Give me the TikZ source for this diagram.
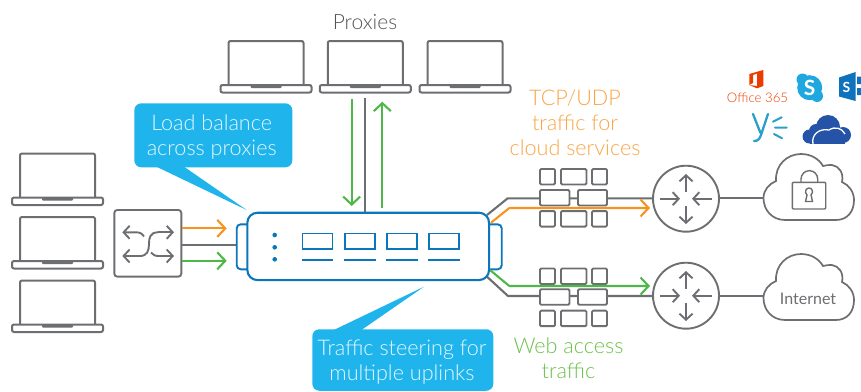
\documentclass[tikz,border=0pt]{standalone}
\usepackage{fontspec}
\setmainfont{Lato}[UprightFont=* Light,BoldFont=* Bold]
\newfontfamily\lreg{Lato}
\usetikzlibrary{arrows.meta}
\definecolor{dgray}{HTML}{6D6E71}
\definecolor{devblue}{HTML}{0B76BC}
\definecolor{callblue}{HTML}{1FB5EC}
\definecolor{lorange}{HTML}{F7941D}
\definecolor{lgreen}{HTML}{4DB848}
\definecolor{torange}{HTML}{F9A546}
\definecolor{tgreen}{HTML}{6CC04A}
\definecolor{callt}{HTML}{E6F7FE}
\tikzset{
  x=1pt,y=-1pt,
  wire/.style={line width=2.1pt,color=dgray},
  owire/.style={line width=2.1pt,color=lorange,-{Straight Barb[length=8pt,width=17pt,line width=2.1pt]}},
  gwire/.style={line width=2.1pt,color=lgreen,-{Straight Barb[length=8pt,width=17pt,line width=2.1pt]}},
  ico/.style={line width=1.9pt,color=dgray,-{Straight Barb[length=6pt,width=13pt,line width=1.9pt]}},
  callbox/.style={rectangle,rounded corners=7pt,fill=callblue,inner sep=0pt},
  calltext/.style={align=center,text=callt,font=\fontsize{21.6}{25}\selectfont,inner sep=0pt},
  fwbox/.style={rectangle,draw=dgray,line width=1.9pt,fill=white,rounded corners=1.2pt,inner sep=0pt,minimum height=15.5pt},
  router/.style={circle,draw=dgray,line width=1.9pt,fill=white,minimum size=66pt,inner sep=0pt},
  ear/.style={rectangle,draw=devblue,line width=1.9pt,fill=white,rounded corners=4pt,inner sep=0pt},
  devrect/.style={rectangle,draw=devblue,line width=1.9pt,minimum width=30pt,minimum height=15.5pt,inner sep=0pt},
  laptop/.pic={
    \draw[line width=2pt,color=dgray,rounded corners=2pt] (-37.5,0)--(-37.5,-44)--(37.5,-44)--(37.5,0);
    \draw[line width=2pt,color=dgray,rounded corners=2pt,fill=white] (-45.5,0) rectangle (45.5,7.5);
    \fill[color=dgray,rounded corners=1pt] (-15.5,0) rectangle (15.5,3);
  },
  cloudshape/.pic={
    \draw[line width=1.7pt,color=dgray,fill=white] (785,220) .. controls (772,220) and (763.5,210) .. (763.5,198)
      .. controls (763.5,190) and (769,184) .. (776,181)
      .. controls (775,165) and (787,154) .. (801,154)
      .. controls (811,154) and (819,159) .. (823,166)
      .. controls (826,165) and (829,165) .. (832,165)
      .. controls (839,166) and (844,173) .. (842,182)
      .. controls (849,185) and (854,192) .. (854,200)
      .. controls (854,212) and (847,220) .. (836,220) -- cycle;
  }
}
\begin{document}
\begin{tikzpicture}
\useasboundingbox (0,0) rectangle (861,391);
% laptops
\pic at (57.5,197.5) {laptop};
\pic at (57.5,261) {laptop};
\pic at (57.5,324.5) {laptop};
\pic at (266,85) {laptop};
\pic at (365.3,85) {laptop};
\pic at (465,85) {laptop};
\node[font=\fontsize{21}{24}\selectfont,text=dgray!75!black,anchor=base] (proxies) at (365,29) {Proxies};
% callouts
\fill[callblue] (155,166) -- (246.7,210) -- (183,166) -- cycle;
\node[callbox,minimum width=158pt,minimum height=64pt] (cb1) at (213.3,135.3) {};
\node[calltext] (t1) at (211.7,137) {Load balance\\across proxies};
\fill[callblue] (331.7,331) -- (424,286.7) -- (360,331) -- cycle;
\node[callbox,minimum width=181pt,minimum height=61.5pt] (cb2) at (402.8,360) {};
\node[calltext] (t2) at (402,362) {Traffic steering for\\multiple uplinks};
% switch
\node[rectangle,draw=dgray,line width=1.9pt,rounded corners=3pt,minimum width=67pt,minimum height=66.7pt,inner sep=0pt] (sw) at (147.8,243.3) {};
\draw[ico] (144,236.5) .. controls (142,233.5) and (140,232.3) .. (136,232.3) -- (122.3,232.3);
\draw[ico] (158,232.3) -- (174,232.3);
\draw[ico] (140,256) -- (122.3,256);
\draw[line width=1.9pt,color=dgray] (158,232.3) .. controls (150,232.3) and (149,238) .. (149,244) .. controls (149,251) and (147,256) .. (140,256);
\draw[ico] (151,252.5) .. controls (153,255) and (155,256) .. (159,256) -- (174,256);
% device
\node[ear,minimum width=22pt,minimum height=45pt] (earl) at (247.7,246.8) {};
\node[ear,minimum width=24pt,minimum height=45pt] (earr) at (489.7,246.8) {};
\coordinate (oa) at (226.7,228.4);
\coordinate (ga) at (226.7,260.8);
\draw[owire] (sw.east |- oa) -- (oa);
\draw[gwire] (sw.east |- ga) -- (ga);
\coordinate (ka) at (200,245.2);
\draw[wire] (sw.east |- ka) -- (earl.west |- ka);
% right wires (behind firewalls)
\coordinate (dtg) at (487,215);
\coordinate (dto) at (491,222.7);
\coordinate (dbg) at (490,270);
\coordinate (dbk) at (487,276.7);
\node[router] (r1) at (686,198.7) {};
\node[router] (r2) at (686,295.7) {};
\coordinate (otip) at (650,208);
\coordinate (gtip) at (650,286);
\coordinate (k1) at (507.7,198.3);
\coordinate (k2) at (508,296);
\draw[wire] (dtg) -- (k1) -- (r1.west |- k1);
\draw[wire] (dbk) -- (k2) -- (r2.west |- k2);
% firewalls
\node[fwbox,minimum width=15pt] (a1) at (547.5,176.7) {};
\node[fwbox,minimum width=25.5pt] (a2) at (573.7,176.7) {};
\node[fwbox,minimum width=15pt] (a3) at (599.5,176.7) {};
\node[fwbox,minimum width=29.5pt] (a4) at (554.7,197.7) {};
\node[fwbox,minimum width=29pt] (a5) at (592.5,197.7) {};
\node[fwbox,minimum width=15pt] (a6) at (547.5,218.8) {};
\node[fwbox,minimum width=25.5pt] (a7) at (573.7,218.8) {};
\node[fwbox,minimum width=15pt] (a8) at (599.5,218.8) {};
\node[fwbox,minimum width=15pt] (b1) at (547.5,276.2) {};
\node[fwbox,minimum width=25.5pt] (b2) at (573.7,276.2) {};
\node[fwbox,minimum width=15pt] (b3) at (599.5,276.2) {};
\node[fwbox,minimum width=29.5pt] (b4) at (554.7,297) {};
\node[fwbox,minimum width=29pt] (b5) at (592.5,297) {};
\node[fwbox,minimum width=15pt] (b6) at (547.5,318.4) {};
\node[fwbox,minimum width=25.5pt] (b7) at (573.7,318.4) {};
\node[fwbox,minimum width=15pt] (b8) at (599.5,318.4) {};
\draw[owire,rounded corners=0.5pt] (dto) -- (509.3,208) -- (otip);
\draw[gwire,rounded corners=0.5pt] (dbg) -- (509.3,286) -- (gtip);
% device body
\node[rectangle,draw=devblue,line width=2.1pt,fill=white,rounded corners=10pt,minimum width=241.7pt,minimum height=67.3pt,inner sep=0pt] (dev) at (368.2,246.4) {};
\fill[devblue] (274.7,235) circle (2.3) (274.7,247.3) circle (2.3) (274.7,259.3) circle (2.3);
\coordinate (ul) at (0,260);
\foreach \n/\cx in {1/317.5,2/359.8,3/402,4/444.2}{
  \node[devrect] (p\n) at (\cx,241.2) {};
  \draw[line width=1.9pt,color=devblue] (p\n.west |- ul) -- (p\n.east |- ul);
}
% proxy arrows
\coordinate (pd1) at (351.7,99.3);
\coordinate (pd2) at (351.7,206);
\coordinate (pu1) at (382.3,208.3);
\coordinate (pu2) at (382.3,101.7);
\draw[gwire] (pd1) -- (pd2);
\draw[gwire] (pu1) -- (pu2);
\coordinate (pg) at (365.3,98.3);
\draw[wire] (pg) -- (pg |- dev.north);
% router icons
\foreach \r in {r1,r2}{
  \draw[ico] ([yshift=7pt]\r.center) -- ([yshift=24.7pt]\r.center);
  \draw[ico] ([yshift=-7pt]\r.center) -- ([yshift=-25.3pt]\r.center);
  \draw[ico] ([xshift=-26pt]\r.center) -- ([xshift=-6pt]\r.center);
  \draw[ico] ([xshift=26pt]\r.center) -- ([xshift=6pt]\r.center);
}
% clouds
\pic at (0,0) {cloudshape};
\pic at (0,100) {cloudshape};
\coordinate (c1) at (763.5,198);
\coordinate (c2) at (763.5,296);
\draw[wire] (r1.east |- c1) -- (c1);
\draw[wire] (r2.east |- c2) -- (c2);
% lock
\draw[line width=1.4pt,color=dgray,rounded corners=1pt] (792.3,182.3) rectangle (825.7,209);
\draw[line width=1.4pt,color=dgray] (801,182.3) -- (801,179) arc[start angle=180,end angle=360,radius=8.35] -- (817.7,182.3);
\draw[line width=1.4pt,color=dgray] (805.5,201.5) -- (812.5,201.5) -- (811,195) .. controls (814,192) and (812,188) .. (809,188) .. controls (806,188) and (804,192) .. (807,195) -- cycle;
\node[font=\lreg\fontsize{16}{18}\selectfont,text=dgray,anchor=base] (inet) at (808,304) {Internet};
% labels
\node[align=center,text=torange,font=\fontsize{21.6}{25}\selectfont,inner sep=0pt] (tcp) at (575,123) {TCP/UDP\\traffic for\\cloud services};
\node[align=center,text=tgreen,font=\fontsize{21.6}{25}\selectfont,inner sep=0pt] (web) at (568.5,358) {Web access\\traffic};
% logos
\definecolor{offred}{HTML}{EB3C00}
\fill[offred] (749.3,74) -- (763.3,70) -- (763.3,86) -- (757,88.3) -- (749.3,85) -- (757,86) -- (757,73.5) -- (753,75) -- (753,83) -- (749.3,85) -- cycle;
\node[font=\fontsize{13.2}{16}\selectfont,text=offred,anchor=base] (off) at (757.5,102) {Office 365};
\definecolor{skypeb}{HTML}{1FA8E0}
\fill[skypeb] (809.7,87.7) circle (12.5) (802.5,79.5) circle (6) (817,96) circle (6);
\node[font=\fontsize{21}{24}\bfseries\selectfont,text=white,inner sep=0pt] (sky) at (809.7,87.7) {S};
\definecolor{shareb}{HTML}{0F72BC}
\fill[shareb] (839,77.5) -- (855.5,72) -- (855.5,101) -- (839,96.5) -- cycle;
\fill[shareb] (857,76.5) rectangle (861,84) (857,88) rectangle (861,95);
\node[font=\fontsize{14}{16}\bfseries\selectfont,text=white,inner sep=0pt] (shp) at (846.5,87) {S};
\definecolor{yamb}{HTML}{2AA0C8}
\draw[yamb,line width=2.3pt,line cap=round] (753,114) -- (760.5,133);
\draw[yamb,line width=2.3pt,line cap=round] (768,114) -- (761,135) .. controls (759.5,139) and (758,141) .. (754,141);
\draw[yamb,line width=2pt,line cap=round] (773,121.7) -- (781.7,117.3) (775,127.7) -- (786.7,127.7) (774,134) -- (782,138.3);
\definecolor{oned}{HTML}{2453A8}
\fill[oned] (828,127) circle (12) (816,131) circle (7) (809.5,136.5) circle (7) (843,135) circle (8);
\fill[oned] (809.5,133) rectangle (845,143.5);
\draw[white,line width=1.3pt] (813,144) .. controls (811,135) and (819,128) .. (829,130) .. controls (835,126) and (842,128) .. (845,134);
\end{tikzpicture}
\end{document}
